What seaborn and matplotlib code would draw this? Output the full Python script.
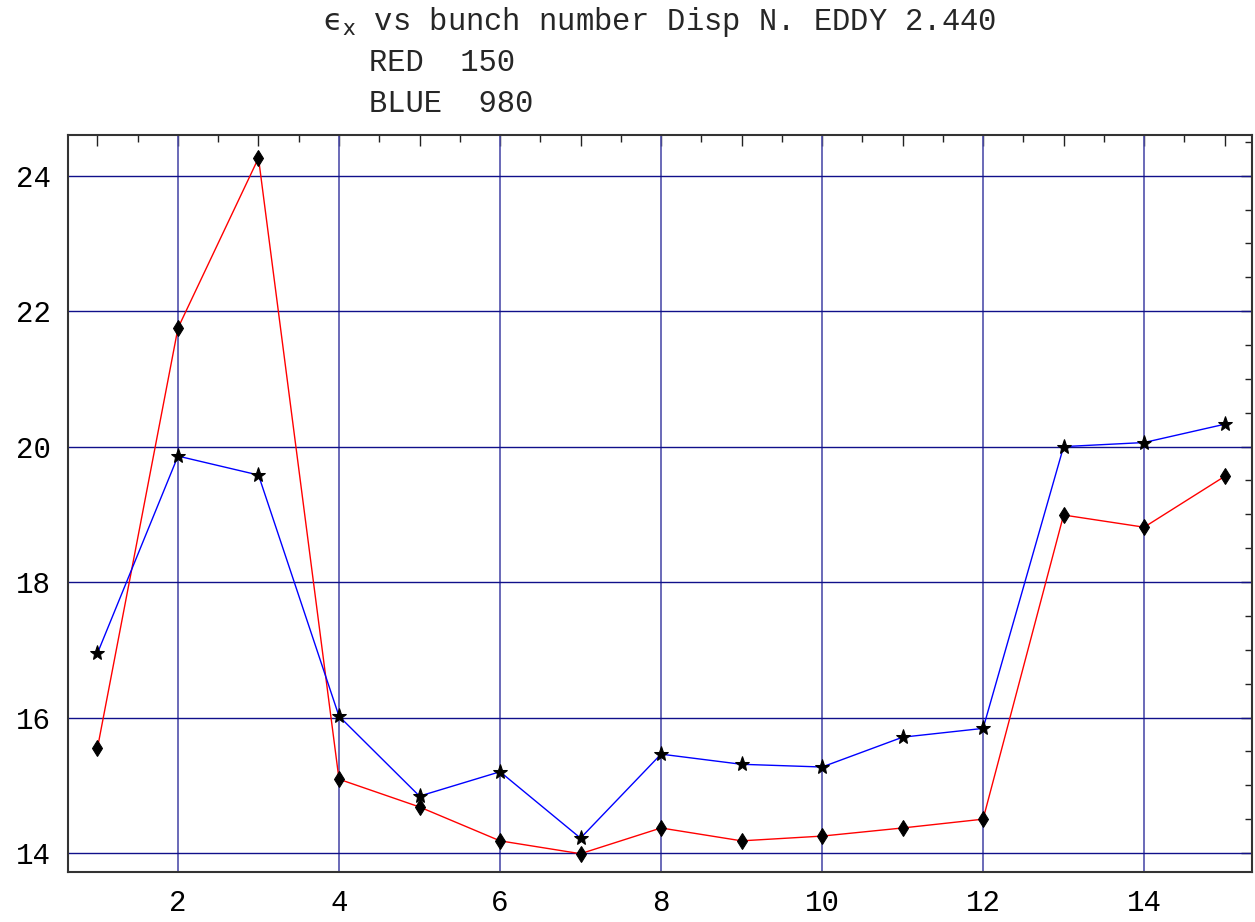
import numpy as np
import pandas as pd
import matplotlib
matplotlib.use('Agg')
import matplotlib.pyplot as plt
from matplotlib.ticker import MultipleLocator
import seaborn as sns

# bunch numbers and emittance values
bunch = list(range(1, 16))
red_150 = [15.55, 21.75, 24.26, 15.09, 14.68, 14.18, 13.99, 14.37,
           14.18, 14.25, 14.37, 14.50, 18.99, 18.81, 19.56]
blue_980 = [16.95, 19.86, 19.58, 16.02, 14.84, 15.20, 14.22, 15.46,
            15.31, 15.27, 15.71, 15.84, 20.00, 20.06, 20.33]

x_labels = [2, 4, 6, 8, 10, 12, 14]
y_labels = [14, 16, 18, 20, 22, 24]

sns.set_style('white')
plt.rcParams['font.family'] = ['Liberation Mono', 'DejaVu Sans']
plt.rcParams['mathtext.fontset'] = 'dejavusans'

df = pd.DataFrame({'bunch': bunch, 'red': red_150, 'blue': blue_980})

fig = plt.figure(figsize=(12.55, 9.22), dpi=100)
ax = fig.add_axes([68 / 1255, 50 / 922, 1184 / 1255, 737 / 922])

# grid lines
for v in x_labels:
    ax.axvline(v, color='#5050ac', lw=1.2, zorder=1)
for v in y_labels:
    ax.axhline(v, color='#10108a', lw=1.0, zorder=1)

sns.lineplot(data=df, x='bunch', y='red', ax=ax, color='red', lw=1.0,
             marker='d', markersize=8.5, markerfacecolor='black',
             markeredgecolor='black', zorder=3)
sns.lineplot(data=df, x='bunch', y='blue', ax=ax, color='blue', lw=1.0,
             marker='*', markersize=11, markerfacecolor='black',
             markeredgecolor='black', zorder=3)

ax.set_xlim(0.634, 15.34)
ax.set_ylim(13.72, 24.6)
ax.set_xlabel('')
ax.set_ylabel('')

ax.xaxis.set_minor_locator(MultipleLocator(0.5))
ax.yaxis.set_minor_locator(MultipleLocator(0.5))
ax.set_xticks(range(1, 16))
ax.set_xticklabels([str(t) if t in x_labels else '' for t in range(1, 16)])
ax.set_yticks(y_labels)
ax.set_yticklabels([str(t) for t in y_labels])

ax.tick_params(which='both', direction='in', top=True, right=True,
               colors='#222222', labelcolor='black', labelsize=21, width=1)
ax.tick_params(which='major', length=8, pad=12)
ax.tick_params(which='minor', length=5)
for s in ax.spines.values():
    s.set_color('#333333')
    s.set_linewidth(1.5)

fig.text(660 / 1255, 1 - 22 / 922,
         '$\\mathrm{\u03f5}_{\\mathrm{x}}$ vs bunch number Disp N. EDDY 2.440',
         ha='center', va='center', fontsize=22)
fig.text(369 / 1255, 1 - 63 / 922, 'RED  150', ha='left', va='center', fontsize=22)
fig.text(369 / 1255, 1 - 104 / 922, 'BLUE  980', ha='left', va='center', fontsize=22)

fig.savefig('out.png', dpi=100)
